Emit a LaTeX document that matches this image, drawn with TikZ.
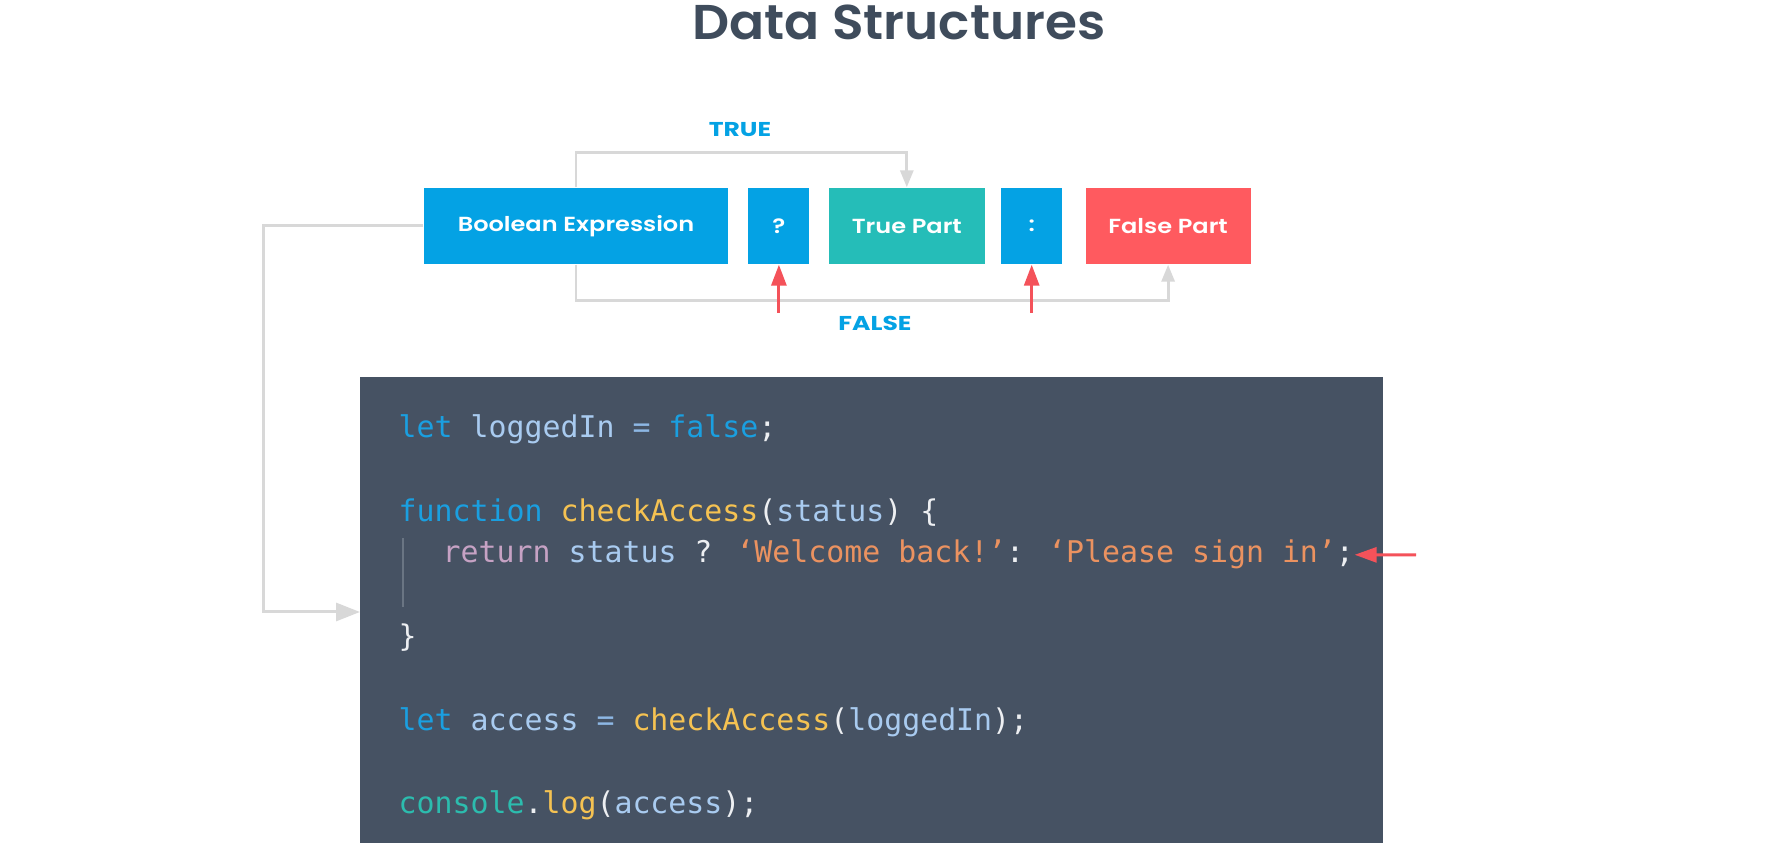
\documentclass[tikz,border=0pt]{standalone}
\usepackage{fontspec}
\setmainfont{Poppins}
\newfontfamily\titlefont{Poppins SemiBold}[FakeStretch=1.06]
\newfontfamily\boxfont{Poppins SemiBold}[FakeStretch=1.18]
\newfontfamily\lblfont{Poppins}[FakeStretch=1.25]
\newfontfamily\codefont{DejaVu Sans Mono}
\usepackage{xcolor}
\usepackage{tikz}
\usetikzlibrary{arrows.meta, positioning}

\definecolor{titlegray}{HTML}{3F4C5C}
\definecolor{boxblue}{HTML}{04A2E4}
\definecolor{boxteal}{HTML}{25BDB8}
\definecolor{boxred}{HTML}{FF5A5F}
\definecolor{linegray}{HTML}{D8D8D8}
\definecolor{arrowred}{HTML}{F4525A}
\definecolor{codebg}{HTML}{465263}
\definecolor{kwblue}{HTML}{1A9FE0}
\definecolor{idblue}{HTML}{A9CBF0}
\definecolor{opblue}{HTML}{8DB7E4}
\definecolor{fnyellow}{HTML}{F5C252}
\definecolor{retpink}{HTML}{C6A2C4}
\definecolor{strorange}{HTML}{EB9260}
\definecolor{conteal}{HTML}{2CBCAE}
\definecolor{punc}{HTML}{EDEFF2}
\definecolor{guidegray}{HTML}{6A7583}

\def\kw#1{\textcolor{kwblue}{#1}}
\def\id#1{\textcolor{idblue}{#1}}
\def\op#1{\textcolor{opblue}{#1}}
\def\fn#1{\textcolor{fnyellow}{#1}}
\def\str#1{\textcolor{strorange}{#1}}

\begin{document}
\begin{tikzpicture}[x=0.1mm, y=-0.1mm,
    box/.style={rectangle, fill=boxblue, text=white, minimum height=7.6mm, inner sep=0,
      font=\boxfont\fontsize{5.8}{7}\selectfont},
    lbl/.style={text=boxblue, inner sep=0, font=\lblfont\fontsize{5.7}{7}\selectfont\bfseries},
    gline/.style={draw=linegray, line width=0.85pt},
    redarrow/.style={draw=arrowred, line width=0.85pt, -{Triangle[length=2.1mm, width=1.5mm]}},
    codeline/.style={anchor=base west, inner sep=0, text=punc,
      font=\codefont\fontsize{8.5}{10}\selectfont}]
  \fill[white] (0,0) rectangle (1775,843);

  % title
  \node[anchor=base, text=titlegray, inner sep=0, font=\titlefont\fontsize{13.9}{16}\selectfont]
    (title) at (899,40) {Data Structures};

  % ternary parts
  \node[box, minimum width=30.4mm] (bool) at (576,226) {Boolean Expression};
  \node[box, minimum width=6.1mm, right=1.9mm of bool] (q) {?};
  \node[box, minimum width=15.6mm, fill=boxteal, right=1.8mm of q] (truep) {True Part};
  \node[box, minimum width=6.1mm, right=1.5mm of truep] (colon) {:};
  \node[box, minimum width=16.5mm, fill=boxred, right=2.2mm of colon] (falsep) {False Part};

  \node[lbl] (truelbl) at (740,130) {TRUE};
  \node[lbl] (falselbl) at (875,323) {FALSE};

  \draw[gline, -{Triangle[length=1.7mm, width=1.3mm]}] (bool.north) -- ++(0,-35) -| (truep.north);
  \draw[gline, -{Triangle[length=1.7mm, width=1.3mm]}] (bool.south) -- ++(0,36) -| (falsep.south);

  \coordinate[below=4.8mm of q.south] (qtail);
  \coordinate[below=4.8mm of colon.south] (colontail);
  \draw[redarrow] (qtail) -- (q.south);
  \draw[redarrow] (colontail) -- (colon.south);

  % code panel
  \fill[codebg] (360,377) rectangle (1383,843);
  \coordinate (entry) at (360,612);
  \draw[gline, -{Triangle[length=2.4mm, width=1.8mm]}] (bool.west) -- ++(-160,0) |- (entry);
  \draw[guidegray, line width=0.3pt] (403,538) -- (403,607);

  \node[codeline] (line1) at (398,438) {\kw{let} \id{loggedIn} \op{=} \kw{false};};
  \node[codeline] (line2) at (398,522) {\kw{function} \fn{checkAccess}(\id{status}) \{};
  \node[codeline] (ret) at (442,563)
    {\textcolor{retpink}{return} \id{status} ? \str{‘Welcome back!’}: \str{‘Please sign in’};};
  \node[codeline] (line4) at (398,647) {\}};
  \node[codeline] (line5) at (398,731) {\kw{let} \id{access} \op{=} \fn{checkAccess}(\id{loggedIn});};
  \node[codeline] (line6) at (398,814) {\textcolor{conteal}{console}.\fn{log}(\id{access});};

  \coordinate (rtail) at (1416,555);
  \draw[redarrow, -{Triangle[length=2.2mm, width=1.5mm]}] (rtail) -- (ret.east);
\end{tikzpicture}
\end{document}
